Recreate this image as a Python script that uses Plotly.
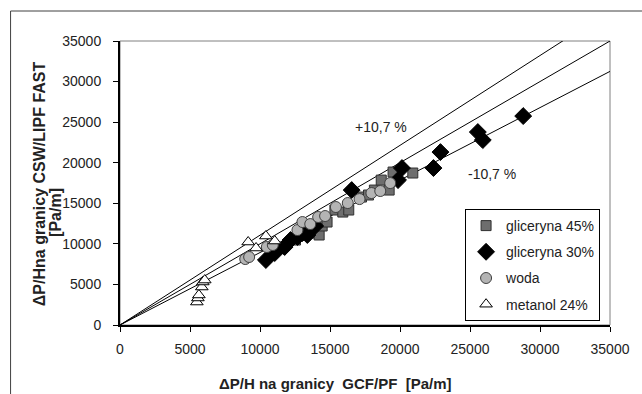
import plotly.graph_objects as go

# ---- data ----
g45_x = [12535, 13240, 13660, 13870, 14225, 14440, 14790, 15350, 15915, 16340, 17250, 17750, 18170, 18660, 19225, 19505, 20915]
g45_y = [10470, 11090, 11330, 11700, 11090, 12200, 12690, 14170, 13920, 14170, 15770, 16020, 16630, 17860, 16630, 18850, 18730]

g30_x = [10420, 11055, 11760, 12180, 12675, 13030, 13380, 13940, 16550, 19860, 20140, 22390, 22890, 25560, 25915, 28800]
g30_y = [8010, 8870, 9610, 10470, 10840, 11330, 11090, 12200, 16630, 17860, 19340, 19340, 21310, 23780, 22790, 25750]

woda_x = [8945, 9225, 10490, 10915, 12675, 13030, 13590, 14155, 14650, 15420, 16270, 17110, 17960, 18590, 19300]
woda_y = [8130, 8380, 9610, 9860, 11700, 12690, 12440, 13310, 13430, 14540, 15030, 15520, 16260, 16510, 17490]

met_x = [5490, 5565, 5635, 5845, 5915, 6055, 9155, 9720, 10420, 11055]
met_y = [2830, 3330, 3700, 4680, 5300, 5540, 10225, 9490, 10965, 10350]

line_x = [0, 35000]
slopes = [1.107, 1.0, 0.893]

x_ticks = [0, 5000, 10000, 15000, 20000, 25000, 30000, 35000]
y_ticks = [0, 5000, 10000, 15000, 20000, 25000, 30000, 35000]

x_title = "<b>ΔP/H na granicy  GCF/PF  [Pa/m]</b>"
y_title_lines = ["<b>ΔP/Hna granicy CSW/LIPF FAST</b>", "<b>[Pa/m]</b>"]
labels = ["+10,7 %", "-10,7 %"]
label_pos = [(18660, 24390), (26550, 18600)]

FONT = "Liberation Sans, Arial, sans-serif"

fig = go.Figure()

for k in slopes:
    fig.add_trace(go.Scatter(x=line_x, y=[v * k for v in line_x], mode="lines",
                             line=dict(color="black", width=1), showlegend=False,
                             hoverinfo="skip"))

fig.add_trace(go.Scatter(x=g45_x, y=g45_y, mode="markers", name="gliceryna 45%",
                         legendgroup="a",
                         marker=dict(symbol="square", size=10, color="#6e6e6e",
                                     line=dict(color="#303030", width=1))))
fig.add_trace(go.Scatter(x=g30_x, y=g30_y, mode="markers", name="gliceryna 30%",
                         legendgroup="b",
                         marker=dict(symbol="diamond", size=13, color="black",
                                     line=dict(color="black", width=1))))
fig.add_trace(go.Scatter(x=woda_x, y=woda_y, mode="markers", name="woda",
                         legendgroup="c",
                         marker=dict(symbol="circle", size=11, color="#b4b4b4",
                                     line=dict(color="#404040", width=1))))
fig.add_trace(go.Scatter(x=met_x, y=met_y, mode="markers", name="metanol 24%",
                         legendgroup="d",
                         marker=dict(symbol="triangle-up", size=11, color="white",
                                     line=dict(color="black", width=1))))

for txt, (lx, ly) in zip(labels, label_pos):
    fig.add_annotation(x=lx, y=ly, text=txt, showarrow=False,
                       xanchor="center", yanchor="middle",
                       font=dict(size=14, color="#222222", family=FONT))

L, R, T, B = 120, 25, 41, 69
W, H = 642, 394
pw, ph = W - L - R, H - T - B

def px2paper_x(px):
    return (px - L) / pw

def px2paper_y(py):
    return (H - B - py) / ph

fig.add_annotation(xref="paper", yref="paper", x=px2paper_x(339), y=px2paper_y(383),
                   xanchor="center", yanchor="middle",
                   text=x_title, showarrow=False,
                   font=dict(size=15, color="#222222", family=FONT))
for txt, (tx, ty) in zip(y_title_lines, [(38, 184), (54, 212)]):
    fig.add_annotation(xref="paper", yref="paper", x=px2paper_x(tx), y=px2paper_y(ty),
                       xanchor="center", yanchor="middle",
                       text=txt, showarrow=False, textangle=-90,
                       font=dict(size=16, color="#222222", family=FONT))

# plot area frame (gray) and outer chart border
fig.add_shape(type="rect", xref="paper", yref="paper", x0=0, y0=0, x1=1, y1=1,
              line=dict(color="#808080", width=1), layer="below")
fig.add_shape(type="rect", xref="paper", yref="paper",
              x0=px2paper_x(9), y0=px2paper_y(460), x1=px2paper_x(720), y1=px2paper_y(11),
              line=dict(color="#404040", width=1), layer="below")

fig.update_layout(
    width=W, height=H, autosize=False,
    margin=dict(l=L, r=R, t=T, b=B),
    paper_bgcolor="white", plot_bgcolor="white",
    font=dict(family=FONT, size=14, color="#222222"),
    legend=dict(x=px2paper_x(470), y=px2paper_y(209), xanchor="left", yanchor="top",
                bordercolor="black", borderwidth=1, bgcolor="white",
                tracegroupgap=5, traceorder="grouped",
                font=dict(size=14, family=FONT, color="#222222")),
    xaxis=dict(range=[0, 35000], tickvals=x_ticks, ticktext=[str(v) for v in x_ticks],
               showgrid=False, zeroline=False, showline=True, linecolor="black", linewidth=2,
               ticks="outside", ticklen=5, tickcolor="black", tickwidth=1,
               ticklabelstandoff=5),
    yaxis=dict(range=[0, 35000], tickvals=y_ticks, ticktext=[str(v) for v in y_ticks],
               showgrid=False, zeroline=False, showline=True, linecolor="black", linewidth=2,
               ticks="outside", ticklen=5, tickcolor="black", tickwidth=1,
               ticklabelstandoff=9),
)

fig.write_html("out.html")
